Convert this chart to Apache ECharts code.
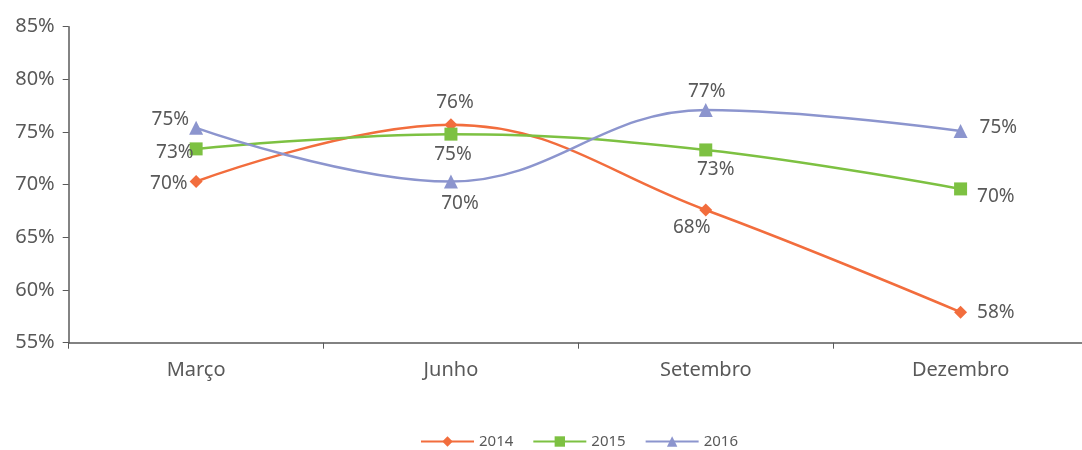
<!DOCTYPE html>
<html>
<head>
<meta charset="utf-8">
<script src="https://cdn.jsdelivr.net/npm/echarts@6/dist/echarts.min.js"></script>
<style>
html,body{margin:0;padding:0;background:#fff;overflow:hidden;width:1082px;height:450px;}
#c{width:1088px;height:450px;}
</style>
</head>
<body>
<div id="c"></div>
<script>
const categories = ['Março', 'Junho', 'Setembro', 'Dezembro'];
const seriesNames = ['2014', '2015', '2016'];
const values2014 = [70.3, 75.7, 67.6, 57.9];
const values2015 = [73.4, 74.8, 73.3, 69.6];
const values2016 = [75.4, 70.3, 77.1, 75.1];
const yTicks = { min: 55, max: 85, interval: 5 };

const colors = ['#F26D3D', '#7DC142', '#8C95CE'];
const symbols = ['diamond', 'rect', 'triangle'];
const symbolSizes = [13, 13, 14];
const textColor = '#595959';
const font = 'Noto Sans';

// label placement per series/point (position, distance, offset)
const labelPlacement = [
  [['left', 2, [0, 2]], ['top', 6, [4, 0]], ['bottom', 2, [-14, 0]], ['right', 10, [0, 0]]],
  [['left', -4, [0, 4]], ['bottom', 4, [2, 0]], ['bottom', 4, [10, 0]], ['right', 10, [0, 8]]],
  [['left', 0, [0, -8]], ['bottom', 6, [9, 0]], ['top', 2, [1, 0]], ['right', 12, [0, -3]]]
];

const allValues = [values2014, values2015, values2016];

const series = allValues.map((vals, si) => ({
  name: seriesNames[si],
  type: 'line',
  smooth: 0.4,
  symbol: symbols[si],
  symbolSize: symbolSizes[si],
  itemStyle: { color: colors[si] },
  lineStyle: { color: colors[si], width: 2.5 },
  data: vals.map((v, i) => ({
    value: v,
    label: {
      show: true,
      position: labelPlacement[si][i][0],
      distance: labelPlacement[si][i][1],
      offset: labelPlacement[si][i][2]
    }
  })),
  label: {
    show: true,
    color: textColor,
    fontFamily: font,
    fontSize: 19,
    formatter: p => Math.round(p.value) + '%'
  },
  emphasis: { disabled: true },
  animation: false
}));

const chart = echarts.init(document.getElementById('c'), null, { renderer: 'canvas' });
chart.setOption({
  backgroundColor: '#fff',
  animation: false,
  textStyle: { fontFamily: font },
  grid: { left: 68.7, right: 0, top: 26.7, bottom: 107.3, containLabel: false },
  legend: {
    data: seriesNames,
    left: 420,
    top: 434,
    padding: 0,
    itemWidth: 53,
    itemHeight: 13,
    itemGap: 19,
    textStyle: { color: textColor, fontFamily: font, fontSize: 15 }
  },
  xAxis: {
    type: 'category',
    data: categories,
    boundaryGap: true,
    axisLine: { lineStyle: { color: '#5a5a5a', width: 1.5 } },
    axisTick: { show: true, length: 6, lineStyle: { color: '#5a5a5a' } },
    axisLabel: { color: textColor, fontFamily: font, fontSize: 20, margin: 18 }
  },
  yAxis: {
    type: 'value',
    min: yTicks.min,
    max: yTicks.max,
    interval: yTicks.interval,
    axisLine: { show: true, lineStyle: { color: '#5a5a5a', width: 1.5 } },
    axisTick: { show: true, length: 6, lineStyle: { color: '#5a5a5a' } },
    splitLine: { show: false },
    axisLabel: { color: textColor, fontFamily: font, fontSize: 20, margin: 14, formatter: '{value}%' }
  },
  series: series
});
</script>
</body>
</html>
